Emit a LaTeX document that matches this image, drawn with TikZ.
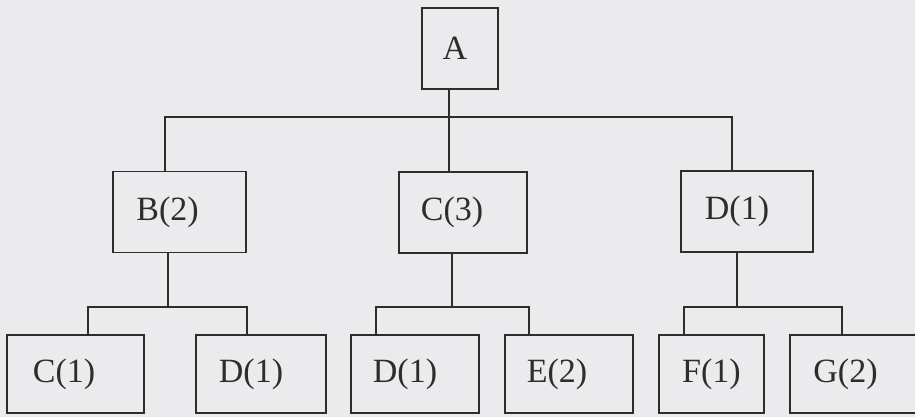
\documentclass[tikz,border=0pt]{standalone}
\usepackage{fontspec}
\setmainfont{Liberation Serif}
\usetikzlibrary{positioning}
\definecolor{paper}{RGB}{235,235,237}
\definecolor{ink}{RGB}{45,45,45}

\begin{document}
\begin{tikzpicture}[x=1pt, y=1pt, line width=1.2pt,
  box/.style={draw=ink, rectangle, inner sep=0pt, minimum height=81pt},
  low/.style={box, minimum height=78pt},
  txt/.style={text=ink, inner sep=0pt, font=\fontsize{34}{40}\selectfont}]
\fill[paper] (0,0) rectangle (915,417);
\useasboundingbox (0,0) rectangle (915,417);
\clip (0,0) rectangle (915,417);

% boxes
\node[box, minimum width=76pt] (a) at (460,368.5) {};
\node[box, minimum width=133pt] (b) at (179.5,205) {};
\node[box, minimum width=128pt] (c) at (463,204.5) {};
\node[box, minimum width=132pt] (d) at (747,205.5) {};
\node[low, minimum width=137pt] (bc) at (75.5,43) {};
\node[low, minimum width=130pt] (bd) at (261,43) {};
\node[low, minimum width=128pt] (cd) at (415,43) {};
\node[low, minimum width=128pt] (ce) at (569,43) {};
\node[low, minimum width=105pt] (df) at (711.5,43) {};
\node[low, minimum width=135pt] (dg) at (857.5,43) {};

% texts
\node[txt] (a-t) at ([xshift=-5pt]a.center) {A};
\node[txt] (b-t) at ([xshift=-12pt]b.center) {B(2)};
\node[txt] (c-t) at ([xshift=-11pt]c.center) {C(3)};
\node[txt] (d-t) at ([xshift=-10pt]d.center) {D(1)};
\node[txt] (bc-t) at ([xshift=-11.5pt]bc.center) {C(1)};
\node[txt] (bd-t) at ([xshift=-10pt]bd.center) {D(1)};
\node[txt] (cd-t) at ([xshift=-10pt]cd.center) {D(1)};
\node[txt] (ce-t) at ([xshift=-12pt]ce.center) {E(2)};
\node[txt] (df-t) at (df.center) {F(1)};
\node[txt] (dg-t) at ([xshift=-12pt]dg.center) {G(2)};

% stem points
\coordinate (bar1) at (0,300);
\coordinate (bar2) at (0,110);
\coordinate (a-s) at ([xshift=-11pt]a.south);
\coordinate (b-n) at ([xshift=-14.5pt]b.north);
\coordinate (c-n) at ([xshift=-14pt]c.north);
\coordinate (d-n) at ([xshift=-15pt]d.north);
\coordinate (b-s) at ([xshift=-11.5pt]b.south);
\coordinate (c-s) at ([xshift=-11pt]c.south);
\coordinate (d-s) at ([xshift=-10pt]d.south);
\coordinate (bc-n) at ([xshift=12.5pt]bc.north);
\coordinate (bd-n) at ([xshift=-14pt]bd.north);
\coordinate (cd-n) at ([xshift=-39pt]cd.north);
\coordinate (ce-n) at ([xshift=-40pt]ce.north);
\coordinate (df-n) at ([xshift=-27.5pt]df.north);
\coordinate (dg-n) at ([xshift=-15.5pt]dg.north);

% connectors
\draw[ink] (a-s) -- (c-n);
\draw[ink] (b-n) -- (b-n |- bar1) -- (d-n |- bar1) -- (d-n);
\draw[ink] (b-s) -- (b-s |- bar2);
\draw[ink] (bc-n) -- (bc-n |- bar2) -- (bd-n |- bar2) -- (bd-n);
\draw[ink] (c-s) -- (c-s |- bar2);
\draw[ink] (cd-n) -- (cd-n |- bar2) -- (ce-n |- bar2) -- (ce-n);
\draw[ink] (d-s) -- (d-s |- bar2);
\draw[ink] (df-n) -- (df-n |- bar2) -- (dg-n |- bar2) -- (dg-n);

\end{tikzpicture}
\end{document}
